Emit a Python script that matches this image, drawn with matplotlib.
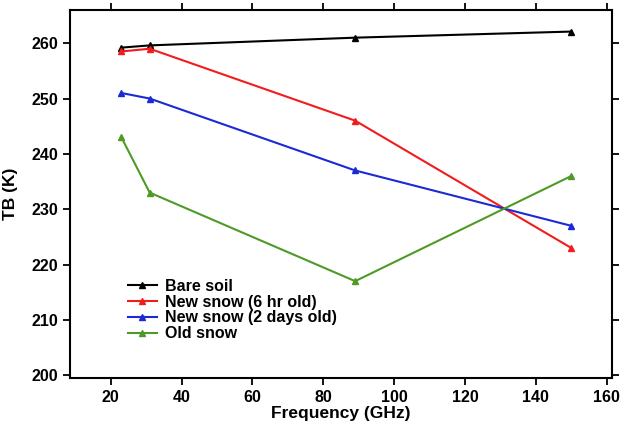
import numpy as np
import matplotlib
matplotlib.use('Agg')
import matplotlib.pyplot as plt

plt.rcParams['font.family'] = ['Liberation Sans', 'DejaVu Sans']
plt.rcParams['font.weight'] = 'bold'

# data
freq = [23, 31, 89, 150]
bare_soil = [259.2, 259.6, 261.0, 262.1]
new_snow_6hr = [258.5, 259.0, 246.0, 223.0]
new_snow_2days = [251.0, 250.0, 237.0, 227.0]
old_snow = [243.0, 233.0, 217.0, 236.0]

fig = plt.figure(figsize=(6.21, 4.25), dpi=100)
ax = fig.add_axes([0.1127, 0.1106, 0.8728, 0.8659])

ax.plot(freq, bare_soil, color='black', marker='^', ms=5, lw=1.5, label='Bare soil')
ax.plot(freq, new_snow_6hr, color='#f21c1c', marker='^', ms=5, lw=1.5, label='New snow (6 hr old)')
ax.plot(freq, new_snow_2days, color='#1c2ad6', marker='^', ms=5, lw=1.5, label='New snow (2 days old)')
ax.plot(freq, old_snow, color='#4e9a26', marker='^', ms=5, lw=1.5, label='Old snow')

ax.set_xlim(8.5, 161.5)
ax.set_ylim(199.5, 266)
ax.set_xticks(np.arange(20, 161, 20))
ax.set_yticks(np.arange(200, 261, 10))
ax.tick_params(axis='both', labelsize=11.5, width=1.3, length=5, direction='out',
               top=True, right=True)
for lbl in ax.get_xticklabels() + ax.get_yticklabels():
    lbl.set_fontweight('bold')
for sp in ax.spines.values():
    sp.set_linewidth(1.5)

ax.set_xlabel('Frequency (GHz)', fontsize=12.5, fontweight='bold')
ax.set_ylabel('TB (K)', fontsize=12.5, fontweight='bold')
ax.xaxis.set_label_coords(0.5, -0.075)
ax.yaxis.set_label_coords(-0.095, 0.5)

ax.legend(loc='upper left', bbox_to_anchor=(0.092, 0.291), frameon=False,
          prop={'size': 11.5, 'weight': 'bold'}, handlelength=1.8,
          handletextpad=0.5, labelspacing=0.05, borderpad=0)

fig.savefig('out.png', dpi=100)
